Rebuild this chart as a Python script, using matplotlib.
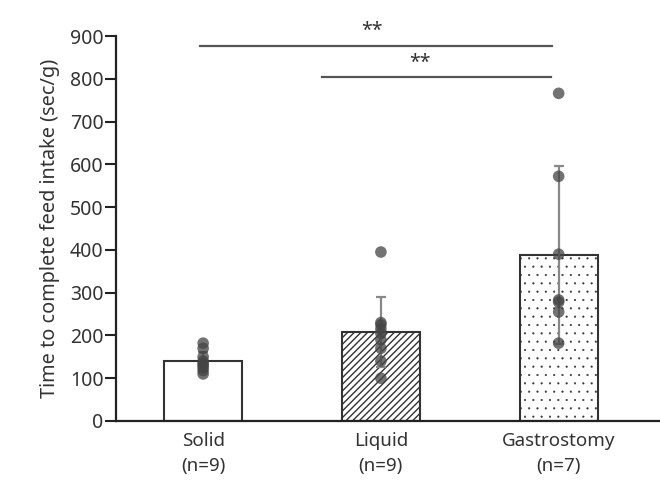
import matplotlib
matplotlib.use("Agg")
import matplotlib.pyplot as plt
import numpy as np

plt.rcParams['font.family'] = ['Noto Sans', 'DejaVu Sans']

categories = ["Solid\n(n=9)", "Liquid\n(n=9)", "Gastrostomy\n(n=7)"]
means = [140, 208, 389]
sds = [22, 82, 208]
solid_pts = [182, 170, 150, 140, 135, 130, 125, 118, 110]
liquid_pts = [395, 230, 225, 215, 205, 190, 170, 140, 100]
gastro_pts = [766, 572, 390, 283, 278, 255, 182]
points = [solid_pts, liquid_pts, gastro_pts]
yticks = [0, 100, 200, 300, 400, 500, 600, 700, 800, 900]
sig_lines = [(-0.02, 1.96, 876), (0.67, 1.955, 804)]
sig_text = [(0.95, 913), (1.22, 836)]

fig = plt.figure(figsize=(6.6, 5.0), dpi=100)
ax = fig.add_axes([0.1758, 0.158, 0.8242, 0.77])

x = np.arange(len(categories))
hatches = ['', '/////', '..']
hatch_colors = ['#555555', '#555555', '#888888']
hatch_lws = [1.0, 1.0, 0.3]
for i in range(len(categories)):
    plt.rcParams['hatch.color'] = hatch_colors[i]
    plt.rcParams['hatch.linewidth'] = hatch_lws[i]
    ax.bar(x[i], means[i], width=0.44, facecolor='white', edgecolor='#333333',
           linewidth=1.5, hatch=hatches[i], zorder=2)
    ax.errorbar(x[i], means[i], yerr=sds[i], fmt='none', ecolor='#888888',
                elinewidth=1.6, capsize=3.5, capthick=1.6, zorder=3)
    ax.scatter([x[i]] * len(points[i]), points[i], s=70, color='#444444',
               alpha=0.75, edgecolors='none', zorder=4)

for (xl, xr, yl), (tx, ty) in zip(sig_lines, sig_text):
    ax.plot([xl, xr], [yl, yl], color='#555555', lw=1.6, clip_on=False, zorder=5)
    ax.text(tx, ty, "**", ha='center', va='center',
            fontsize=14, fontweight='bold', color='#333333', clip_on=False)

ax.set_xlim(-0.49, 2.57)
ax.set_ylim(0, 900)
ax.set_yticks(yticks)
ax.set_xticks(x)
ax.set_xticklabels(categories, fontsize=13.5, color='#333333', linespacing=1.5)
ax.tick_params(axis='x', length=0, pad=8)
ax.tick_params(axis='y', length=8, width=1.5, color='#222222', labelsize=14,
               labelcolor='#333333', pad=1)
ax.set_ylabel("Time to complete feed intake (sec/g)", fontsize=14.3, color='#333333',
              labelpad=7)
for s in ['top', 'right']:
    ax.spines[s].set_visible(False)
for s in ['left', 'bottom']:
    ax.spines[s].set_linewidth(1.6)
    ax.spines[s].set_color('#222222')

fig.savefig("out.png", dpi=100)
